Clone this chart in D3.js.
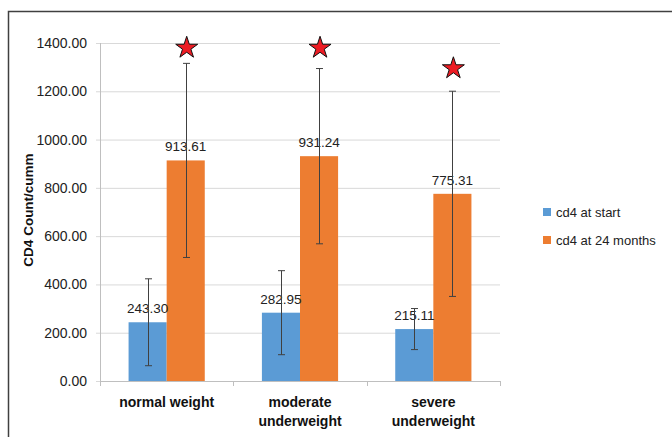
<!DOCTYPE html>
<html><head><meta charset="utf-8">
<script src="https://cdn.jsdelivr.net/npm/d3@7"></script>
<style>body{margin:0;background:#fff}svg{display:block;font-family:"Liberation Sans",Arial,sans-serif}</style>
</head><body><svg id="c" width="672" height="437"></svg>
<script>
const categories = [["normal weight"], ["moderate", "underweight"], ["severe", "underweight"]];
const seriesNames = ["cd4 at start", "cd4 at 24 months"];
const cd4Start = [243.30, 282.95, 215.11];
const cd4At24 = [913.61, 931.24, 775.31];
const sdStart = [180, 174, 85];
const sd24 = [402, 363, 425];
const starValues = [1380, 1380, 1295];
const yTicks = [0, 200, 400, 600, 800, 1000, 1200, 1400];
const colors = ["#5B9BD5", "#ED7D31"];

(function () {
const svg = d3.select("#c");
svg.append("path").attr("d", "M8.5,437 V11.5 H672").attr("fill", "none").attr("stroke", "#404040").attr("stroke-width", 1.5);

const pL = 100, pR = 500, pT = 43, pB = 381;
const keys = categories.map(c => c.join(" "));
const y = d3.scaleLinear().domain([0, 1400]).range([pB, pT]);
const x0 = d3.scaleBand().domain(keys).range([pL, pR]).paddingInner(0.4286).paddingOuter(0.2143);
const x1 = d3.scaleBand().domain([0, 1]).range([0, x0.bandwidth()]);

const gy = svg.append("g").attr("transform", `translate(${pL},0)`)
  .call(d3.axisLeft(y).tickValues(yTicks).tickSize(-(pR - pL)).tickFormat(d => d.toFixed(2)).tickPadding(13));
gy.select(".domain").remove();
gy.selectAll(".tick line").attr("stroke", "#d9d9d9").attr("x1", -4);
gy.selectAll(".tick text").attr("fill", "#222").style("font-size", "14px");
svg.append("line").attr("x1", pL + 0.5).attr("x2", pL + 0.5).attr("y1", pT).attr("y2", pB).attr("stroke", "#bfbfbf");

const xb = d3.scaleLinear().domain([0, 3]).range([pL, pR]);
svg.append("line").attr("x1", pL).attr("x2", pR).attr("y1", pB + 0.5).attr("y2", pB + 0.5).attr("stroke", "#bfbfbf");
svg.selectAll(".xt").data([0, 1, 2, 3]).enter().append("line")
  .attr("x1", d => Math.round(xb(d)) + 0.5).attr("x2", d => Math.round(xb(d)) + 0.5).attr("y1", pB).attr("y2", pB + 5).attr("stroke", "#bfbfbf");
const xl = svg.selectAll(".xl").data(categories).enter().append("text")
  .attr("text-anchor", "middle").attr("font-weight", "bold").style("font-size", "14px").attr("fill", "#111")
  .attr("transform", (d, i) => `translate(${x0(keys[i]) + x0.bandwidth() / 2},0)`);
xl.selectAll("tspan").data(d => d).enter().append("tspan").attr("x", 0).attr("y", (d, j) => 407 + j * 19).text(d => d);

svg.append("text").attr("transform", `translate(33,210) rotate(-90)`)
  .attr("text-anchor", "middle").attr("font-weight", "bold").style("font-size", "13.5px").attr("fill", "#111").text("CD4 Count/cumm");

const series = [cd4Start, cd4At24];
const sds = [sdStart, sd24];
series.forEach((vals, s) => {
  svg.append("g").selectAll("rect").data(vals).enter().append("rect")
    .attr("x", (d, i) => x0(keys[i]) + x1(s)).attr("width", x1.bandwidth())
    .attr("y", d => y(d)).attr("height", d => y(0) - y(d)).attr("fill", colors[s]);
});
series.forEach((vals, s) => {
  svg.append("g").selectAll("text").data(vals).enter().append("text")
    .attr("x", (d, i) => x0(keys[i]) + x1(s) + x1.bandwidth() / 2).attr("y", d => y(d) - 9)
    .attr("text-anchor", "middle").style("font-size", "13.5px").attr("fill", "#222").text(d => d.toFixed(2));
});
series.forEach((vals, s) => {
  const g = svg.append("g").attr("stroke", "#404040").attr("stroke-width", 1);
  vals.forEach((v, i) => {
    const cx = Math.round(x0(keys[i]) + x1(s) + x1.bandwidth() / 2) + 0.5;
    const hi = y(v + sds[s][i]), lo = y(v - sds[s][i]);
    g.append("line").attr("x1", cx).attr("x2", cx).attr("y1", hi).attr("y2", lo);
    g.append("line").attr("x1", cx - 3.5).attr("x2", cx + 3.5).attr("y1", hi).attr("y2", hi);
    g.append("line").attr("x1", cx - 3.5).attr("x2", cx + 3.5).attr("y1", lo).attr("y2", lo);
  });
});
const star = d3.symbol().type(d3.symbolStar).size(150);
svg.append("g").selectAll("path").data(starValues).enter().append("path")
  .attr("d", star)
  .attr("transform", (d, i) => `translate(${x0(keys[i]) + x1(1) + x1.bandwidth() / 2 + 1},${y(d)})`)
  .attr("fill", "#ED1C24").attr("stroke", "#111").attr("stroke-width", 1);

const lg = svg.append("g").attr("transform", "translate(543,208)");
seriesNames.forEach((n, i) => {
  lg.append("rect").attr("x", 0).attr("y", i * 28).attr("width", 8).attr("height", 8).attr("fill", colors[i]);
  lg.append("text").attr("x", 13).attr("y", i * 28 + 9).style("font-size", "13px").attr("fill", "#222").text(n);
});
})();
</script></body></html>
